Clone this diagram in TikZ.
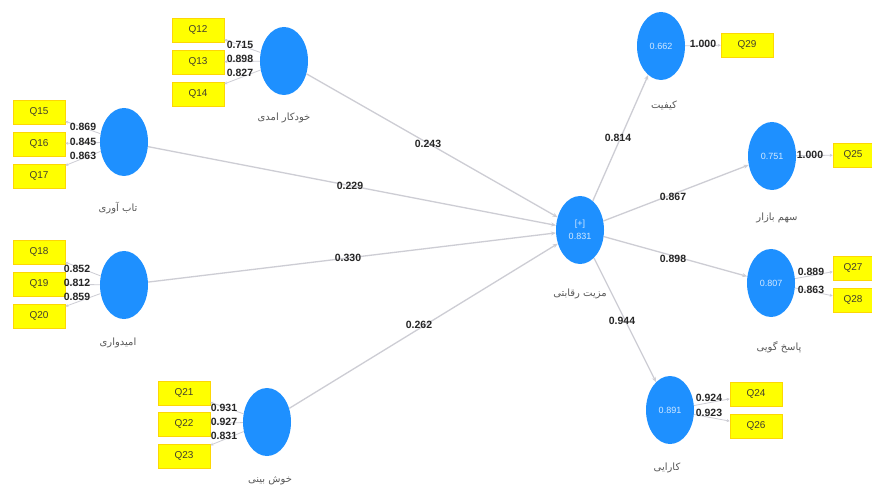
\documentclass[tikz,border=0pt]{standalone}
\usepackage{fontspec}
\setmainfont{Liberation Sans}
\newfontfamily\fa[Script=Arabic]{DejaVu Sans}
\TeXXeTstate=1
\usetikzlibrary{shapes.geometric,arrows.meta}
\definecolor{plsblue}{RGB}{30,144,255}
\definecolor{plsyel}{RGB}{255,255,0}
\definecolor{lnk}{RGB}{205,205,212}
\begin{document}
\begin{tikzpicture}[x=1pt,y=-1pt,
 lv/.style={ellipse, fill=plsblue, minimum width=48pt, minimum height=68pt, inner sep=0pt, text=white!80!plsblue, font=\fontsize{9}{10}\selectfont},
 ind/.style={rectangle, fill=plsyel, draw=yellow!75!orange, line width=0.6pt, minimum width=52pt, minimum height=24pt, inner sep=0pt, text=black!70!olive, font=\fontsize{10}{11}\selectfont},
 num/.style={font=\bfseries\fontsize{10.5}{11}\selectfont, text=black!85, inner sep=0.5pt},
 lbl/.style={font=\fa\fontsize{10}{12}\selectfont, text=black!65},
 pathc/.style={draw=lnk, line width=1.3pt, -{Stealth[length=5pt,width=4pt]}},
 load/.style={draw=lnk, line width=0.8pt, -{Stealth[length=3pt,width=3pt]}}]
\clip (0,0) rectangle (872,494);
\fill[white] (0,0) rectangle (872,494);
% latent variables
\node[lv] (c1) at (284,61) {};
\node[lv] (c2) at (124,142) {};
\node[lv] (c3) at (124,285) {};
\node[lv] (c4) at (267,422) {};
\node[lv, align=center] (m) at (580,230) {[+]\\[3pt]0.831};
\node[lv] (k) at (661,46) {0.662};
\node[lv] (s) at (772,156) {0.751};
\node[lv] (p) at (771,283) {0.807};
\node[lv] (e) at (670,410) {0.891};
% construct labels
\node[lbl] (lc1) at (284,118) {\beginR خودکار امدی\endR};
\node[lbl] (lc2) at (118,208) {\beginR تاب آوری\endR};
\node[lbl] (lc3) at (118,343) {\beginR امیدواری\endR};
\node[lbl] (lc4) at (270,481) {\beginR خوش بینی\endR};
\node[lbl] (lm) at (580,294) {\beginR مزیت رقابتی\endR};
\node[lbl] (lk) at (664,105) {\beginR کیفیت\endR};
\node[lbl] (ls) at (777,218) {\beginR سهم بازار\endR};
\node[lbl] (lp) at (779,347) {\beginR پاسخ گویی\endR};
\node[lbl] (le) at (667,468) {\beginR کارایی\endR};
% indicators
\node[ind] (q12) at (198,30) {Q12};
\node[ind] (q13) at (198,62) {Q13};
\node[ind] (q14) at (198,94) {Q14};
\node[ind] (q15) at (39,112) {Q15};
\node[ind] (q16) at (39,144) {Q16};
\node[ind] (q17) at (39,176) {Q17};
\node[ind] (q18) at (39,252) {Q18};
\node[ind] (q19) at (39,284) {Q19};
\node[ind] (q20) at (39,316) {Q20};
\node[ind] (q21) at (184,393) {Q21};
\node[ind] (q22) at (184,424) {Q22};
\node[ind] (q23) at (184,456) {Q23};
\node[ind] (q29) at (747,45) {Q29};
\node[ind, minimum width=40pt] (q25) at (853,155) {Q25};
\node[ind, minimum width=40pt] (q27) at (853,268) {Q27};
\node[ind, minimum width=40pt] (q28) at (853,300) {Q28};
\node[ind] (q24) at (756,394) {Q24};
\node[ind] (q26) at (756,426) {Q26};
% structural paths
\draw[pathc] (c1) -- (m);
\draw[pathc] (c2) -- (m);
\draw[pathc] (c3) -- (m);
\draw[pathc] (c4) -- (m);
\draw[pathc] (m) -- (k);
\draw[pathc] (m) -- (s);
\draw[pathc] (m) -- (p);
\draw[pathc] (m) -- (e);
% loadings
\foreach \c/\q in {c1/q12,c1/q13,c1/q14,c2/q15,c2/q16,c2/q17,c3/q18,c3/q19,c3/q20,c4/q21,c4/q22,c4/q23,k/q29,s/q25,p/q27,p/q28,e/q24,e/q26}
  \draw[load] (\c) -- (\q);
% coefficients
\node[num] (b1) at (428,144) {0.243};
\node[num] (b2) at (350,186) {0.229};
\node[num] (b3) at (348,258) {0.330};
\node[num] (b4) at (419,325) {0.262};
\node[num] (b5) at (618,138) {0.814};
\node[num] (b6) at (673,197) {0.867};
\node[num] (b7) at (673,259) {0.898};
\node[num] (b8) at (622,321) {0.944};
% loading values
\node[num] (l12) at (240,45) {0.715};
\node[num] (l13) at (240,59) {0.898};
\node[num] (l14) at (240,73) {0.827};
\node[num] (l15) at (83,127) {0.869};
\node[num] (l16) at (83,142) {0.845};
\node[num] (l17) at (83,156) {0.863};
\node[num] (l18) at (77,269) {0.852};
\node[num] (l19) at (77,283) {0.812};
\node[num] (l20) at (77,297) {0.859};
\node[num] (l21) at (224,408) {0.931};
\node[num] (l22) at (224,422) {0.927};
\node[num] (l23) at (224,436) {0.831};
\node[num] (l29) at (703,44) {1.000};
\node[num] (l25) at (810,155) {1.000};
\node[num] (l27) at (811,272) {0.889};
\node[num] (l28) at (811,290) {0.863};
\node[num] (l24) at (709,398) {0.924};
\node[num] (l26) at (709,413) {0.923};
\end{tikzpicture}
\end{document}
